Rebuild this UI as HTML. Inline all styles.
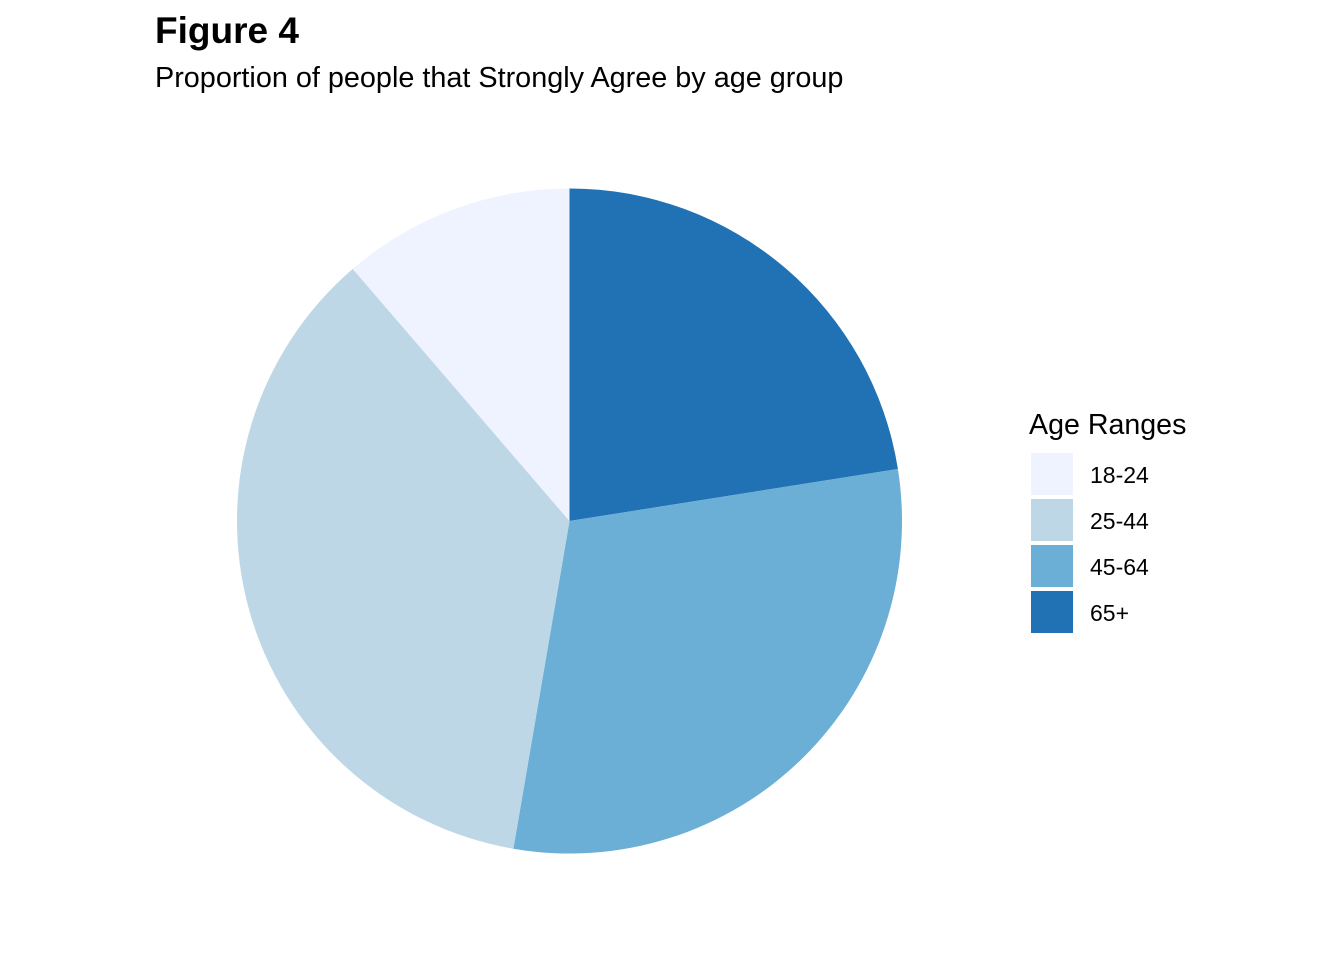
<!DOCTYPE html>
<html><head><meta charset="utf-8"><style>
body{margin:0;background:#fff;width:1344px;height:960px;overflow:hidden;font-family:"Liberation Sans",Arial,sans-serif}
</style></head><body>
<svg id="chart" width="1344" height="960">
<text x="155" y="43" font-size="37" font-weight="bold" fill="#000">Figure 4</text>
<text x="155" y="87" font-size="28.8" fill="#000">Proportion of people that Strongly Agree by age group</text>
<g id="slices"></g>
<g id="legend">
<text x="1029" y="434" font-size="28.6" fill="#000">Age Ranges</text>
</g>
</svg>
<script>
// clockwise from top
const categories = ["65+", "45-64", "25-44", "18-24"];
const values = [0.225, 0.302, 0.36, 0.113];
const colors = ["#2171B5", "#6BAED6", "#BDD7E7", "#EFF3FF"];
const legendOrder = ["18-24", "25-44", "45-64", "65+"];

const ns = "http://www.w3.org/2000/svg";
const cx = 569.5, cy = 521, r = 332.5;
const total = values.reduce((a, b) => a + b, 0);
const g = document.getElementById("slices");
function pt(frac) {
  const a = frac * 2 * Math.PI;
  return [cx + r * Math.sin(a), cy - r * Math.cos(a)];
}
let acc = 0;
values.forEach((v, i) => {
  const f0 = acc / total, f1 = (acc + v) / total;
  acc += v;
  const p0 = pt(f0), p1 = pt(f1);
  const large = (f1 - f0) > 0.5 ? 1 : 0;
  const path = document.createElementNS(ns, "path");
  path.setAttribute("d", `M${cx},${cy} L${p0[0]},${p0[1]} A${r},${r} 0 ${large} 1 ${p1[0]},${p1[1]} Z`);
  path.setAttribute("fill", colors[i]);
  
  
  g.appendChild(path);
});
const lg = document.getElementById("legend");
legendOrder.forEach((c, i) => {
  const idx = categories.indexOf(c);
  const y = 453 + i * 46;
  const rect = document.createElementNS(ns, "rect");
  rect.setAttribute("x", 1031); rect.setAttribute("y", y);
  rect.setAttribute("width", 42); rect.setAttribute("height", 42);
  rect.setAttribute("fill", colors[idx]);
  
  
  lg.appendChild(rect);
  const t = document.createElementNS(ns, "text");
  t.setAttribute("x", 1090); t.setAttribute("y", y + 30);
  t.setAttribute("font-size", "23"); t.textContent = c;
  
  
  lg.appendChild(t);
});
</script>
</body></html>
